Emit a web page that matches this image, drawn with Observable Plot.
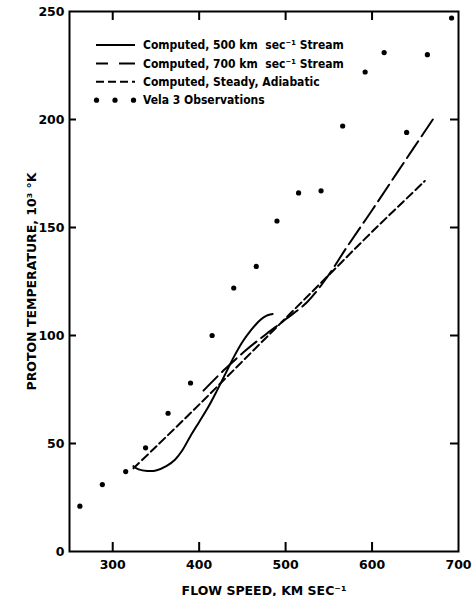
<!DOCTYPE html>
<html>
<head>
<meta charset="utf-8">
<script src="https://cdn.jsdelivr.net/npm/d3@7"></script>
<script src="https://cdn.jsdelivr.net/npm/@observablehq/plot@0.6"></script>
<style>
  body { margin: 0; background: #fff; }
  svg { display: block; }
</style>
</head>
<body>
<div id="chart"></div>
<script>
// Vela 3 observations: flow speed (km/s) and proton temperature (10^3 K)
const obsSpeed = [262, 288, 315, 338, 364, 390, 415, 440, 466, 490, 515, 541, 566, 592, 614, 640, 664, 692];
const obsTemp  = [21, 31, 37, 48, 64, 78, 100, 122, 132, 153, 166, 167, 197, 222, 231, 194, 230, 247];

// Computed, 500 km/s stream
const s500Speed = [324, 330, 340, 350, 362, 372, 380, 390, 400, 410, 420, 430, 440, 450, 460, 470, 478, 485];
const s500Temp  = [39.5, 38, 37.3, 37.5, 39.5, 42.5, 46.5, 53.5, 60, 66.5, 74, 82, 90, 97, 102.5, 107, 109.2, 110];

// Computed, 700 km/s stream
const s700Speed = [405, 430, 455, 478, 500, 525, 548, 571, 600, 630, 672];
const s700Temp  = [74.5, 84.5, 93.5, 100.8, 107.5, 115.5, 127, 141, 158, 176, 201];

// Computed, steady adiabatic
const steadySpeed = [324, 350, 400, 450, 500, 550, 600, 661];
const steadyTemp  = [38.5, 48.5, 68, 88, 108, 128, 148, 171.5];

// Axis ticks
const xTicks = [300, 400, 500, 600];
const xTickLabels = [300, 400, 500, 600, 700];
const yTicks = [50, 100, 150, 200];
const yTickLabels = [0, 50, 100, 150, 200, 250];

// Legend entries
const legendLabels = [
  "Computed, 500 km  sec\u207B\u00B9 Stream",
  "Computed, 700 km  sec\u207B\u00B9 Stream",
  "Computed, Steady, Adiabatic",
  "Vela 3 Observations"
];
const legendDashes = [null, "12,11,16", "8,4", "dots"];

const zip = (xs, ys) => xs.map((x, i) => ({x, y: ys[i]}));
const obs = zip(obsSpeed, obsTemp);
const s500 = zip(s500Speed, s500Temp);
const s700 = zip(s700Speed, s700Temp);
const steady = zip(steadySpeed, steadyTemp);

const font = "'DejaVu Sans', sans-serif";
const legendFont = "'DejaVu Sans Condensed', 'DejaVu Sans', sans-serif";

const chart = Plot.plot({
  width: 475,
  height: 596,
  marginLeft: 69,
  marginRight: 17,
  marginTop: 11,
  marginBottom: 45,
  x: {domain: [250, 700]},
  y: {domain: [0, 250]},
  style: {fontFamily: font, fontWeight: "bold", fontSize: "12px", color: "#000", background: "#fff"},
  marks: [
    // inward tick marks on all four sides
    Plot.axisX(xTicks, {anchor: "bottom", tickSize: -9, text: null, strokeWidth: 2, label: null}),
    Plot.axisX(xTicks, {anchor: "top", tickSize: -8, text: null, strokeWidth: 2, label: null}),
    Plot.axisY(yTicks, {anchor: "left", tickSize: -7, text: null, strokeWidth: 2, label: null}),
    Plot.axisY(yTicks, {anchor: "right", tickSize: -9, text: null, strokeWidth: 2, label: null}),
    // tick labels and axis titles
    Plot.axisX(xTickLabels, {
      anchor: "bottom", tickSize: 0, tickPadding: 9, fontSize: 12.5,
      label: "FLOW SPEED, KM SEC\u207B\u00B9", labelAnchor: "center", labelArrow: "none", labelOffset: 43
    }),
    Plot.axisY(yTickLabels, {
      anchor: "left", tickSize: 0, tickPadding: 5, fontSize: 12.5,
      label: "PROTON TEMPERATURE, 10\u00B3 \u00B0K", labelAnchor: "center", labelArrow: "none", labelOffset: 42
    }),
    Plot.frame({strokeWidth: 2}),
    Plot.line(steady, {x: "x", y: "y", curve: "catmull-rom", strokeWidth: 2, strokeDasharray: "8,4"}),
    Plot.line(s700, {x: "x", y: "y", curve: "catmull-rom", strokeWidth: 2, strokeDasharray: "20,6"}),
    Plot.line(s500, {x: "x", y: "y", curve: "catmull-rom", strokeWidth: 2}),
    Plot.dot(obs, {x: "x", y: "y", r: 2.6, fill: "#000", stroke: null})
  ]
});

// Legend drawn inside the plot frame, upper left
const svg = d3.select(chart);
const legend = svg.append("g")
  .attr("font-family", legendFont)
  .attr("font-weight", "bold")
  .attr("font-size", 12)
  .attr("text-anchor", "start");
const rowY = i => 45 + i * 18.4;
legendLabels.forEach((label, i) => {
  const y = rowY(i);
  const dash = legendDashes[i];
  if (dash === "dots") {
    [96.5, 115, 133.5].forEach(cx =>
      legend.append("circle").attr("cx", cx).attr("cy", y).attr("r", 2.6).attr("fill", "#000"));
  } else {
    legend.append("line")
      .attr("x1", 96).attr("x2", 135).attr("y1", y).attr("y2", y)
      .attr("stroke", "#000").attr("stroke-width", 2)
      .attr("stroke-dasharray", dash);
  }
  legend.append("text")
    .attr("x", 143).attr("y", y).attr("dy", "0.35em")
    .attr("text-anchor", "start")
    .text(label);
});

document.getElementById("chart").append(chart);
</script>
</body>
</html>
